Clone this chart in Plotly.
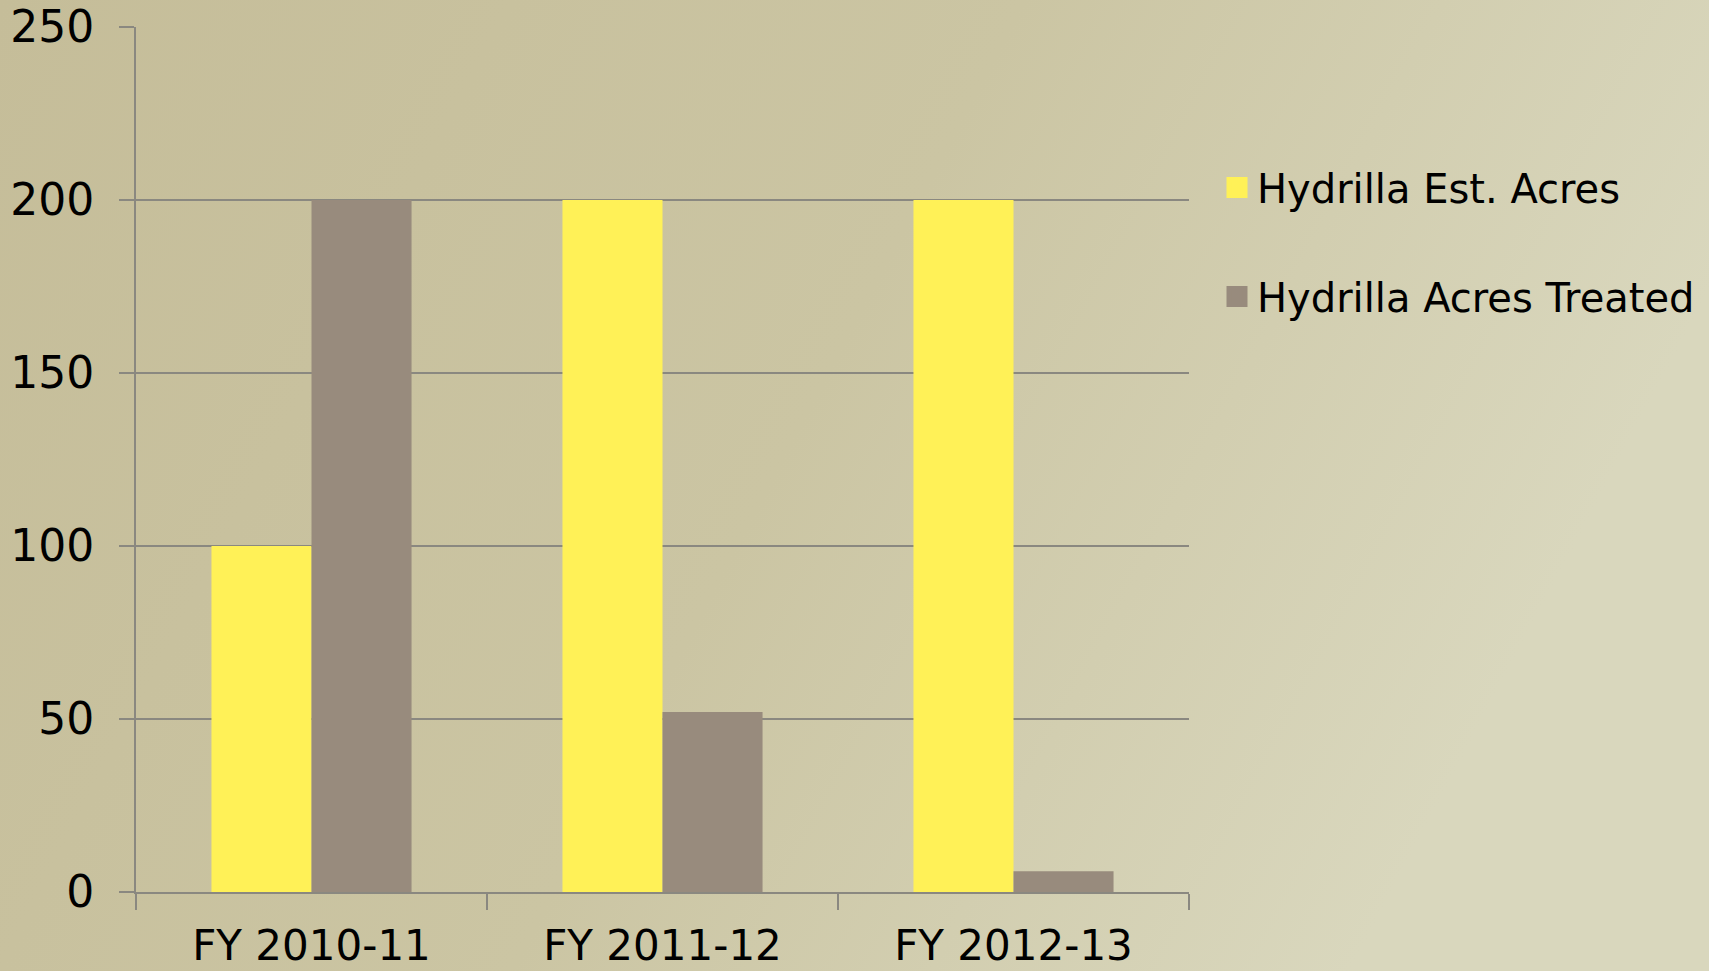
import base64
import plotly.graph_objects as go

categories = ["FY 2010-11", "FY 2011-12", "FY 2012-13"]
est_acres = [100, 200, 200]
treated_acres = [200, 52, 6]
series_names = ["Hydrilla Est. Acres", "Hydrilla Acres Treated"]
series_colors = ["#fff157", "#988b7d"]
y_ticks = [0, 50, 100, 150, 200, 250]

W, H = 1709, 971
ml, mr, mt, mb = 136, 520, 27, 79
pw, ph = W - ml - mr, H - mt - mb

font = "DejaVu Sans"
grid = "#8a8880"

svg = f'''<svg xmlns="http://www.w3.org/2000/svg" width="{W}" height="{H}" viewBox="0 0 {W} {H}" preserveAspectRatio="none">
<defs><linearGradient id="g" x1="0" y1="0" x2="1" y2="0.3">
<stop offset="0" stop-color="#c5bd99"/><stop offset="0.55" stop-color="#cbc5a3"/><stop offset="1" stop-color="#d9d7bd"/>
</linearGradient></defs><rect width="{W}" height="{H}" fill="url(#g)"/></svg>'''
bg = "data:image/svg+xml;base64," + base64.b64encode(svg.encode()).decode()

fig = go.Figure()
for name, vals, col, grp in [(series_names[0], est_acres, series_colors[0], "a"),
                             (series_names[1], treated_acres, series_colors[1], "b")]:
    fig.add_trace(go.Bar(x=categories, y=vals, name=name, showlegend=False,
                         marker=dict(color=col, line=dict(width=0)), legendgroup=grp))
    # legend entry with a larger swatch
    fig.add_trace(go.Scatter(x=[None], y=[None], mode="markers", name=name, legendgroup=grp,
                             marker=dict(symbol="square", size=16, color=col,
                                         line=dict(width=5, color=col))))

fig.update_layout(
    width=W, height=H,
    margin=dict(l=ml, r=mr, t=mt, b=mb, autoexpand=False),
    paper_bgcolor="#cbc5a3", plot_bgcolor="rgba(0,0,0,0)",
    barmode="group", bargap=0.43, bargroupgap=0,
    font=dict(family=font, color="#000000"),
    showlegend=True,
    legend=dict(x=(1217 - ml) / pw, y=1 - (155 - mt) / ph, xanchor="left", yanchor="top",
                font=dict(size=40, family=font), bgcolor="rgba(0,0,0,0)",
                tracegroupgap=54, traceorder="grouped", itemwidth=30),
    images=[dict(source=bg, xref="paper", yref="paper", x=-ml / pw, y=1 + mt / ph,
                 sizex=W / pw, sizey=H / ph, sizing="stretch", layer="below",
                 xanchor="left", yanchor="top")],
)
fig.update_xaxes(type="category", tickson="boundaries", ticks="outside", ticklen=16,
                 tickcolor=grid, tickwidth=2, showline=True, linecolor=grid, linewidth=2,
                 tickfont=dict(size=42, family=font), ticklabelstandoff=16, showgrid=False,
                 automargin=False)
fig.update_yaxes(range=[0, 250], tickvals=y_ticks, ticks="outside", ticklen=15,
                 tickcolor=grid, tickwidth=2, showline=True, linecolor=grid, linewidth=2,
                 showgrid=True, gridcolor=grid, gridwidth=2, zeroline=False,
                 tickfont=dict(size=44, family=font), ticklabelstandoff=16, automargin=False)

fig.write_html("out.html", config={"displayModeBar": False},
               post_script="document.body.style.margin='0';document.body.style.overflow='hidden';")
